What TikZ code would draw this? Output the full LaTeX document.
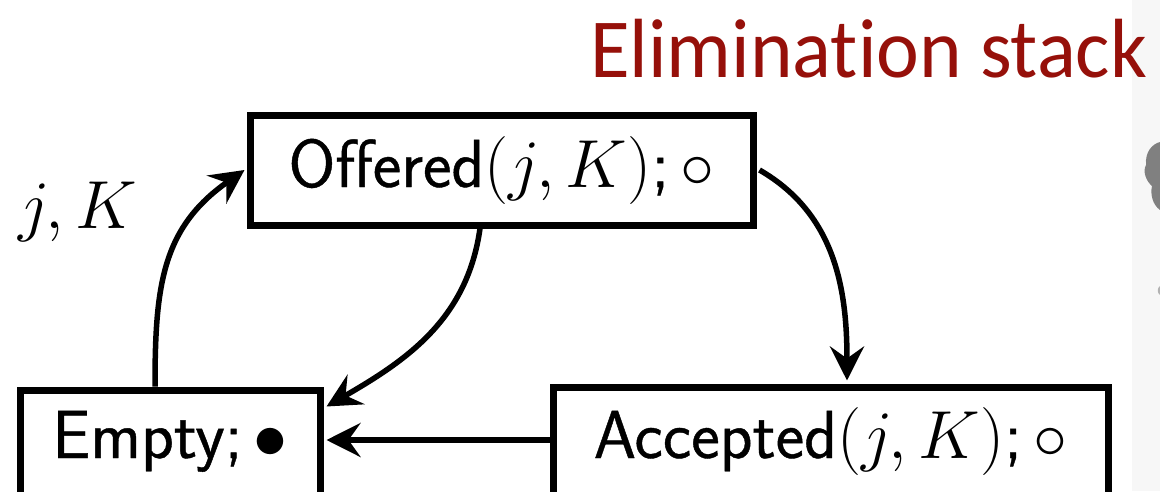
\documentclass[tikz,border=0pt]{standalone}
\usepackage{fix-cm}
\usepackage{fontspec}
\newfontfamily\titlefont[Ligatures=NoCommon]{Carlito}
\newfontfamily\boxfont[FakeBold=0.6]{Latin Modern Sans}
\usetikzlibrary{arrows.meta}
\definecolor{titlered}{RGB}{150,16,10}
\begin{document}
\begin{tikzpicture}[x=1pt,y=-1pt,
  statebox/.style={draw=black, line width=7pt, rectangle, inner sep=0pt,
    font=\boxfont\fontsize{68}{80}\selectfont, text height=51pt},
  conn/.style={line width=5.5pt, -{Stealth[length=34pt,width=34pt,inset=12pt]}},
  lbl/.style={font=\fontsize{68}{80}\selectfont, inner sep=0pt}]
\useasboundingbox (0,0) rectangle (1160,491);
\clip (0,0) rectangle (1160,491);
% faint grey image remnant at the right edge
\fill[black!3] (1132,0) rectangle (1160,491);
\fill[black!50] (1160,142) .. controls (1152,144) and (1145,152) .. (1146,165)
  .. controls (1142,172) and (1147,182) .. (1152,186)
  .. controls (1150,195) and (1153,205) .. (1160,210) -- cycle;
\fill[black!30] (1160,286) .. controls (1157,288) and (1157,293) .. (1160,295) -- cycle;
% title
\node[anchor=base west, inner sep=0pt, text=titlered,
  font=\titlefont\fontsize{84}{90}\selectfont] (title) at (590,77)
  {\scalebox{0.965}[1]{Elimination stack}};
% states
\node[statebox, minimum width=503pt, minimum height=110pt, text depth=17pt]
  (off) at (501.5,170) {Offered$(j,K)$;\,$\circ$};
\node[statebox, minimum width=300pt, minimum height=110pt, text depth=25pt]
  (emp) at (170,445) {Empty;\,$\bullet$};
\node[statebox, minimum width=555pt, minimum height=113pt, text depth=22pt]
  (acc) at (830.5,443.5) {Accepted$(j,K)$;\,$\circ$};
% label
\node[lbl, anchor=base west] (jk) at (18,228) {$j,K$};
% connectors
\draw[conn] ([xshift=-15pt]emp.north) to[out=90,in=215,looseness=1.1] ([xshift=-2pt]off.west);
\draw[conn] ([xshift=-21.5pt]off.south) to[out=-98,in=30,looseness=1] ([xshift=3pt,yshift=-20pt]emp.north east);
\draw[conn] ([xshift=3pt]off.east) to[out=-30,in=90] ([xshift=16.5pt,yshift=3pt]acc.north);
\draw[conn] ([yshift=3.5pt]acc.west) -- ([xshift=3pt,yshift=5pt]emp.east);
\end{tikzpicture}
\end{document}
